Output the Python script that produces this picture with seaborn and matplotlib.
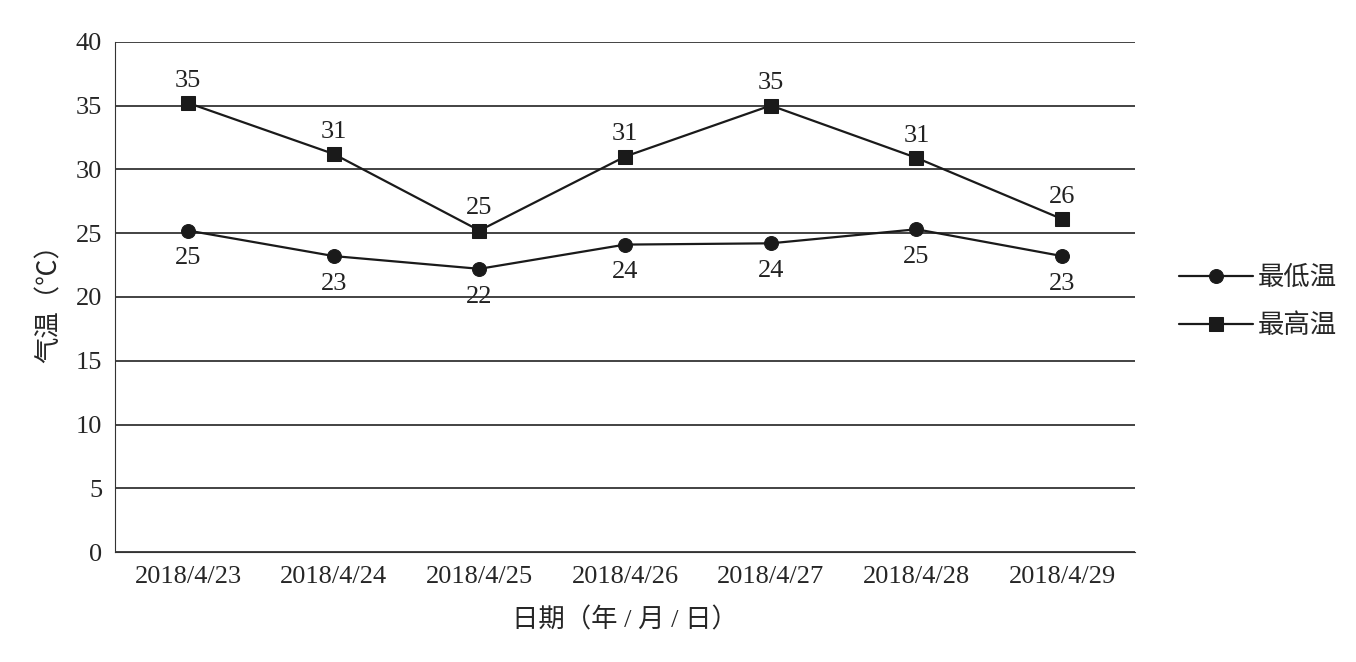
import matplotlib
matplotlib.use("Agg")
import matplotlib.pyplot as plt
import seaborn as sns
import pandas as pd

dates = ["2018/4/23","2018/4/24","2018/4/25","2018/4/26","2018/4/27","2018/4/28","2018/4/29"]
low = [25.2, 23.2, 22.2, 24.1, 24.2, 25.3, 23.2]
high = [35.2, 31.2, 25.2, 31.0, 35.0, 30.9, 26.1]
low_labels = [25, 23, 22, 24, 24, 25, 23]
high_labels = [35, 31, 25, 31, 35, 31, 26]

sns.set_style("white")
plt.rcParams['font.family'] = ['Liberation Serif', 'Noto Sans CJK SC']

fig = plt.figure(figsize=(13.56, 6.62), dpi=100)
ax = fig.add_axes([0.085, 0.166, 0.752, 0.771])
xs = list(range(len(dates)))
df = pd.DataFrame({"x": xs * 2, "y": low + high,
                   "s": ["最低温"] * 7 + ["最高温"] * 7})
sns.lineplot(data=df, x="x", y="y", hue="s", style="s",
             markers={"最低温": "o", "最高温": "s"}, dashes=False,
             palette={"最低温": "#1a1a1a", "最高温": "#1a1a1a"},
             markersize=10, markeredgecolor="#1a1a1a", linewidth=1.6,
             ax=ax, legend=True)
for x, v, t in zip(xs, low, low_labels):
    ax.annotate(str(t), (x, v), xytext=(0, -12), textcoords="offset points",
                ha="center", va="top", fontsize=19, color="#222")
for x, v, t in zip(xs, high, high_labels):
    ax.annotate(str(t), (x, v), xytext=(0, 8), textcoords="offset points",
                ha="center", va="bottom", fontsize=19, color="#222")

ax.set_xlim(-0.5, 6.5)
ax.set_ylim(0, 40)
ax.set_yticks(range(0, 41, 5))
ax.grid(axis="y", color="#222", linewidth=1.2)
ax.set_axisbelow(True)
ax.set_xticks([i + 0.5 for i in range(-1, 7)])
ax.set_xticklabels([])
ax.tick_params(axis="x", which="major", length=6, direction="out", color="#333")
ax.set_xticks(xs, minor=True)
ax.set_xticklabels(dates, minor=True)
ax.tick_params(axis="x", which="minor", length=0, labelsize=19, pad=10)
ax.tick_params(axis="y", length=6, direction="out", labelsize=19, color="#333")
for side in ["top", "right"]:
    ax.spines[side].set_visible(False)
for side in ["left", "bottom"]:
    ax.spines[side].set_color("#333")
ax.set_xlabel("日期（年 / 月 / 日）", fontsize=19, labelpad=14)
ax.set_ylabel("气温（℃）", fontsize=19, labelpad=10)
ax.legend(title=None, loc="center left", bbox_to_anchor=(1.02, 0.49),
          frameon=False, fontsize=19, handlelength=2.8, handletextpad=0.2,
          labelspacing=0.9)
fig.savefig("out.png", dpi=100, facecolor="white")
